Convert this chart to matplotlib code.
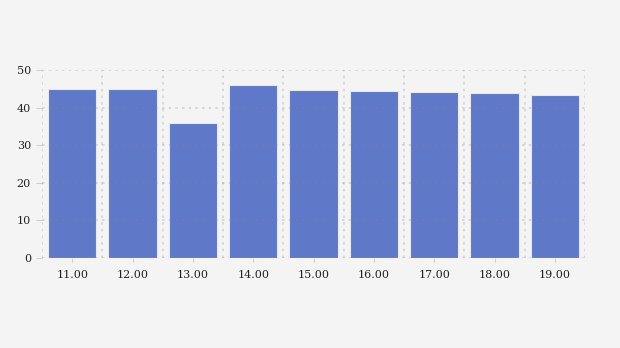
import matplotlib
matplotlib.use("Agg")
import matplotlib.pyplot as plt
import numpy as np

# Data
hours = ["11.00", "12.00", "13.00", "14.00", "15.00", "16.00", "17.00", "18.00", "19.00"]
values = [45.0, 45.0, 36.0, 46.0, 44.7, 44.4, 44.2, 44.0, 43.4]
y_ticks = [0, 10, 20, 30, 40, 50]

plt.rcParams['font.family'] = ['DejaVu Serif']

fig = plt.figure(figsize=(6.2, 3.48), dpi=100, facecolor='#f4f4f4')
ax = fig.add_axes([42 / 620, 1 - 258 / 348, 543 / 620, 188 / 348])
ax.set_facecolor('#f4f4f4')

x = np.arange(len(hours))
ax.bar(x, values, width=0.8, color='#5f78c8', edgecolor='#e6e8f4', linewidth=0.8, zorder=2)

ax.set_xlim(-0.5, len(hours) - 0.5)
ax.set_ylim(0, 50)
ax.set_xticks(x)
ax.set_xticklabels(hours)
ax.set_yticks(y_ticks)

# dotted grid drawn over the bars, semi-transparent
grid_kw = dict(color='#888888', alpha=0.3, linestyle=(0, (1.5, 2.5)), linewidth=1.2, zorder=3)
for yv in y_ticks:
    ax.axhline(yv, **grid_kw)
for b in np.arange(-0.5, len(hours), 1.0):
    ax.axvline(b, **grid_kw)

for s in ax.spines.values():
    s.set_visible(False)

ax.tick_params(axis='x', length=3, color='#d0d0d0', labelsize=8, labelcolor='#222222', pad=6)
ax.tick_params(axis='y', length=4, color='#d0d0d0', labelsize=8, labelcolor='#222222', pad=4)

fig.savefig("out.png", dpi=100, facecolor=fig.get_facecolor())
